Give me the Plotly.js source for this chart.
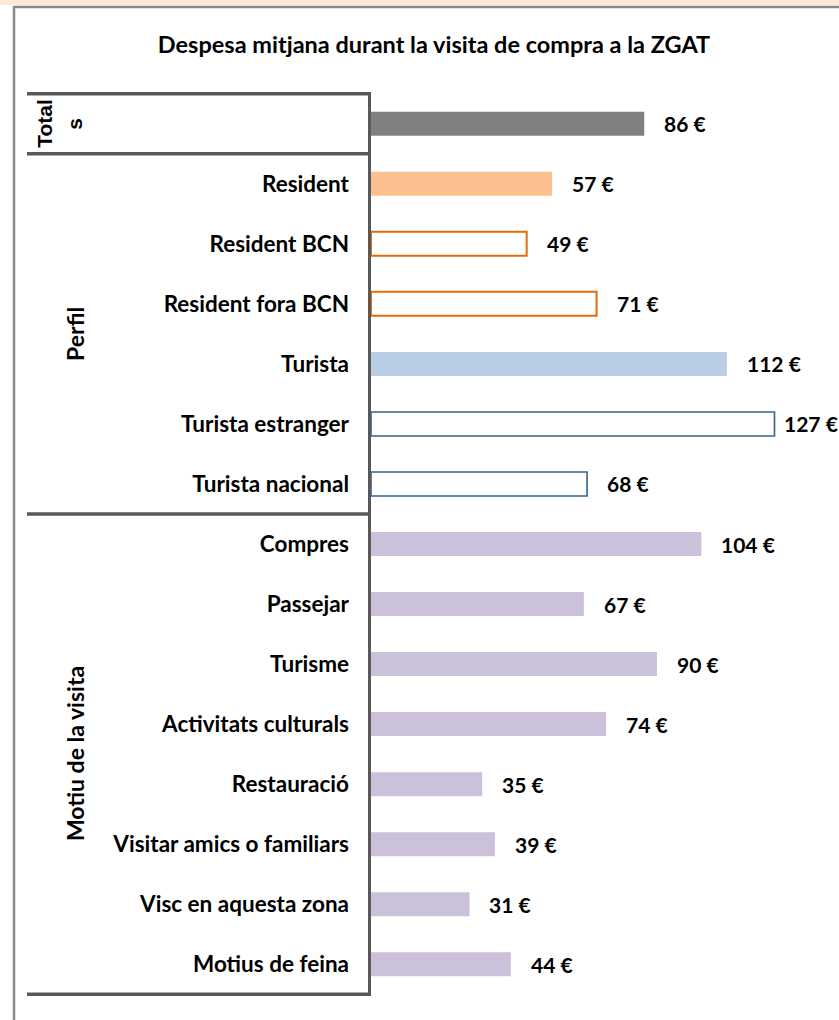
<!DOCTYPE html>
<html><head><meta charset="utf-8">
<script src="https://cdn.plot.ly/plotly-3.0.1.min.js"></script>
<style>html,body{margin:0;padding:0;background:#fff;overflow:hidden}</style>
</head><body><div id="chart" style="width:839px;height:1020px"></div>
<script>
// ---- data ----
const chartTitle = "Despesa mitjana durant la visita de compra a la ZGAT";
const categories = ["Totals","Resident","Resident BCN","Resident fora BCN","Turista","Turista estranger","Turista nacional","Compres","Passejar","Turisme","Activitats culturals","Restauració","Visitar amics o familiars","Visc en aquesta zona","Motius de feina"];
const tickLabels = ["","Resident","Resident BCN","Resident fora BCN","Turista","Turista estranger","Turista nacional","Compres","Passejar","Turisme","Activitats culturals","Restauració","Visitar amics o familiars","Visc en aquesta zona","Motius de feina"];
const values = [86,57,49,71,112,127,68,104,67,90,74,35,39,31,44];
const groupNames = ["Totals","Perfil","Motiu de la visita"];
const groupSizes = [1,6,8];
const valueSuffix = " €";

// ---- styles ----
const barKinds = ["total","res","resSub","resSub","tur","turSub","turSub","mot","mot","mot","mot","mot","mot","mot","mot"];
const kindStyle = {
  total:{fill:"#808080", line:"#808080", w:0},
  res:{fill:"#fac090", line:"#fac090", w:0},
  resSub:{fill:"#ffffff", line:"#e46c0a", w:2},
  tur:{fill:"#b9cde5", line:"#b9cde5", w:0},
  turSub:{fill:"#ffffff", line:"#376092", w:1.6},
  mot:{fill:"#ccc1da", line:"#ccc1da", w:0}
};

const W=839,H=1020,L=371,R=0,T=92,B=24;
const pw=W-L-R, ph=H-T-B;
const xMax = 147.3;
const px2x = p => (p-L)/pw;
const py2y = p => (H-B-p)/ph;
const FONT = "Lato, 'Open Sans', sans-serif";

const trace = {
  type:"bar", orientation:"h",
  x: values, y: categories,
  marker:{
    color: barKinds.map(k=>kindStyle[k].fill),
    line:{color: barKinds.map(k=>kindStyle[k].line), width: barKinds.map(k=>kindStyle[k].w)}
  },
  hoverinfo:"none"
};

const annotations = [];
// value labels
values.forEach((v,i)=>{
  const endPx = L + v/xMax*pw;
  const shift = (W - endPx) < 75 ? 7 : 18;
  annotations.push({x:v, y:categories[i], xref:"x", yref:"y", text:v+valueSuffix,
    showarrow:false, xanchor:"left", yanchor:"middle", xshift:shift,
    font:{family:FONT, size:21, color:"#000", weight:700}});
});

// group labels and separators
const shapes = [];
const lineCol = "#595959";
let start = 0;
const bounds = [-0.5];
const totFont = {family:"'Liberation Sans', Arial, sans-serif", size:21, color:"#000", weight:700};
groupNames.forEach((g,gi)=>{
  const end = start + groupSizes[gi] - 1;
  const mid = (start+end)/2;
  if (g === "Totals") {
    annotations.push({x:px2x(45), y:mid, xref:"paper", yref:"y", text:"Total", textangle:-90, showarrow:false,
      xanchor:"center", yanchor:"middle", font:totFont});
    annotations.push({x:px2x(75), y:mid, xref:"paper", yref:"y", text:"s", textangle:-90, showarrow:false,
      xanchor:"center", yanchor:"middle", font:totFont});
  } else {
    annotations.push({x:px2x(75), y:mid, xref:"paper", yref:"y", text:g, textangle:-90, showarrow:false,
      xanchor:"center", yanchor:"middle", font:{family:FONT, size:23, color:"#000", weight:700}});
  }
  bounds.push(end+0.5);
  start = end+1;
});
bounds.forEach(b=>{
  shapes.push({type:"line", xref:"paper", yref:"y", x0:px2x(27), x1:0, y0:b, y1:b,
    line:{color:lineCol, width:3.5}});
});
// outer chart frame
const frameCol = "#8a8a8a";
shapes.push({type:"line", xref:"paper", yref:"paper", x0:px2x(14), x1:px2x(14), y0:py2y(6.5), y1:py2y(1030), line:{color:frameCol, width:2.5}});
shapes.push({type:"line", xref:"paper", yref:"paper", x0:px2x(13), x1:px2x(845), y0:py2y(7), y1:py2y(7), line:{color:frameCol, width:2.5}});
// top peach strip
shapes.push({type:"rect", xref:"paper", yref:"paper", x0:px2x(-5), x1:px2x(845), y0:py2y(5), y1:py2y(-2), fillcolor:"#fde9d9", line:{width:0}});

const layout = {
  width:W, height:H,
  margin:{l:L, r:R, t:T, b:B, pad:0},
  paper_bgcolor:"#fff", plot_bgcolor:"#fff",
  showlegend:false,
  bargap:0.6,
  title:{text:chartTitle, x:434/W, xref:"container", xanchor:"center", y:1-45/H, yref:"container", yanchor:"middle",
    font:{family:FONT, size:23.5, color:"#000", weight:700}},
  xaxis:{range:[0,xMax], showgrid:false, zeroline:false, showticklabels:false, ticks:"", showline:false, fixedrange:true},
  yaxis:{type:"category", autorange:"reversed", tickvals:categories, ticktext:tickLabels,
    showgrid:false, zeroline:false, ticks:"", showline:true, linecolor:lineCol, linewidth:3.5,
    ticklabelstandoff:14, tickfont:{family:FONT, size:22.5, color:"#000", weight:700}, fixedrange:true},
  shapes: shapes,
  annotations: annotations
};

Plotly.newPlot("chart", [trace], layout, {displayModeBar:false, staticPlot:true});
</script>
</body></html>
